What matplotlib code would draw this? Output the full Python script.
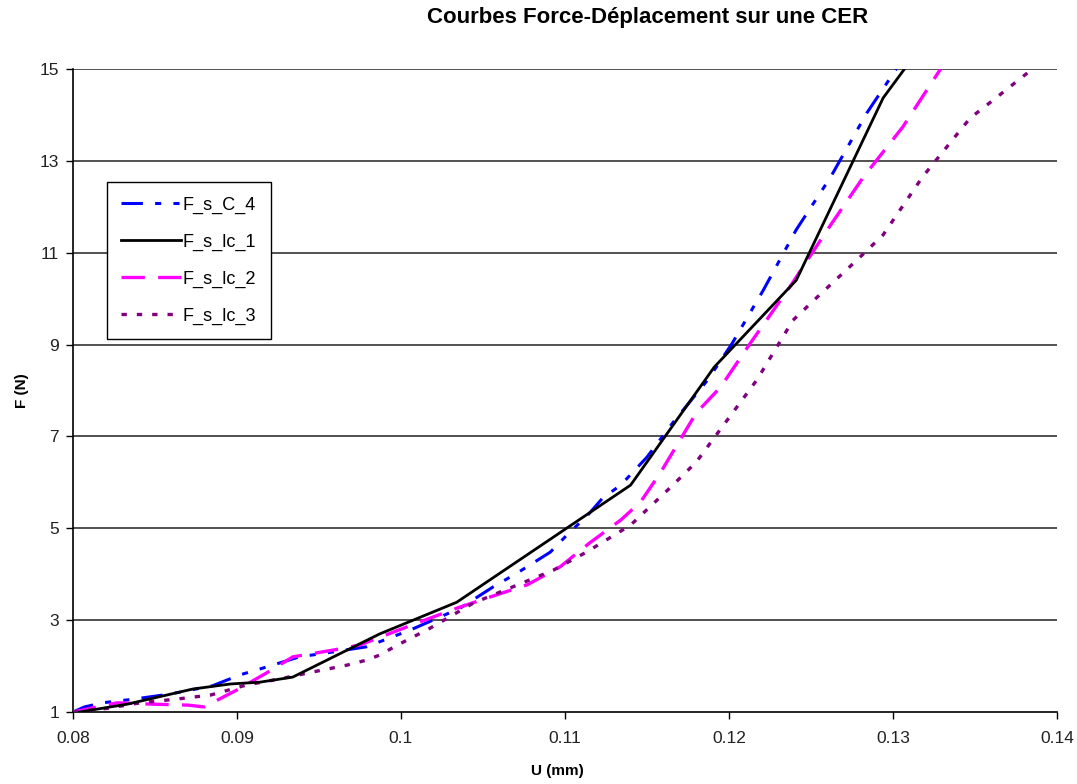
import matplotlib
matplotlib.use("Agg")
import matplotlib.pyplot as plt

# ── Data ──────────────────────────────────────────────────────────────────────
u_c4 = [0.0800, 0.0807, 0.0818, 0.0837, 0.0859, 0.0885, 0.0902, 0.0918, 0.0938,
        0.0959, 0.0979, 0.1006, 0.1036, 0.1056, 0.1071, 0.1091, 0.1103, 0.1113,
        0.1123, 0.1134, 0.1150, 0.1166, 0.1187, 0.1202, 0.1221, 0.1241, 0.1262,
        0.1284, 0.1302]
f_c4 = [1.00, 1.11, 1.20, 1.28, 1.39, 1.57, 1.81, 1.98, 2.20,
        2.31, 2.42, 2.79, 3.26, 3.72, 4.03, 4.48, 4.92, 5.25,
        5.66, 5.94, 6.55, 7.31, 8.23, 9.03, 10.19, 11.50, 12.65,
        14.04, 15.00]

u_lc1 = [0.0804, 0.0833, 0.0873, 0.0896, 0.0914, 0.0934, 0.0987, 0.1034,
         0.1140, 0.1191, 0.1241, 0.1294, 0.1307]
f_lc1 = [1.00, 1.17, 1.50, 1.61, 1.65, 1.76, 2.70, 3.39,
         5.94, 8.51, 10.40, 14.37, 15.00]

u_lc2 = [0.0800, 0.0827, 0.0849, 0.0870, 0.0880, 0.0900, 0.0918, 0.0934,
         0.0959, 0.0975, 0.0991, 0.1010, 0.1034, 0.1054, 0.1077, 0.1097,
         0.1115, 0.1134, 0.1146, 0.1158, 0.1180, 0.1195, 0.1213, 0.1237,
         0.1260, 0.1282, 0.1306, 0.1329]
f_lc2 = [1.00, 1.20, 1.17, 1.15, 1.11, 1.48, 1.85, 2.20,
         2.35, 2.46, 2.68, 2.94, 3.26, 3.50, 3.77, 4.16,
         4.68, 5.18, 5.57, 6.20, 7.51, 8.08, 9.03, 10.25,
         11.50, 12.65, 13.74, 15.00]

u_lc3 = [0.0800, 0.0821, 0.0841, 0.0863, 0.0884, 0.0906, 0.0926, 0.0946,
         0.0967, 0.0979, 0.0987, 0.0998, 0.1018, 0.1044, 0.1074, 0.1093,
         0.1113, 0.1140, 0.1164, 0.1180, 0.1217, 0.1239, 0.1254, 0.1278,
         0.1294, 0.1318, 0.1347, 0.1361, 0.1385]
f_lc3 = [1.00, 1.08, 1.20, 1.28, 1.37, 1.59, 1.72, 1.87,
         2.02, 2.13, 2.24, 2.46, 2.83, 3.37, 3.81, 4.09,
         4.48, 5.07, 5.88, 6.44, 8.23, 9.53, 10.04, 10.84,
         11.39, 12.65, 13.93, 14.32, 15.00]

x_ticks = [0.08, 0.09, 0.10, 0.11, 0.12, 0.13, 0.14]
x_labels = ["0.08", "0.09", "0.1", "0.11", "0.12", "0.13", "0.14"]
y_ticks = [1, 3, 5, 7, 9, 11, 13, 15]

plt.rcParams["font.family"] = ["Liberation Sans", "DejaVu Sans"]

fig = plt.figure(figsize=(10.77, 7.84), dpi=100)
ax = fig.add_axes([73 / 1077, 1 - 712 / 784, 984 / 1077, 643 / 784])

for y in y_ticks[1:]:
    ax.axhline(y, color="#333333", linewidth=1.2, zorder=1)

ax.plot(u_c4, f_c4, color="#0000FF", linewidth=2.2,
        linestyle=(0, (7, 4, 2, 4, 2, 4)), label="F_s_C_4", zorder=3)
ax.plot(u_lc1, f_lc1, color="black", linewidth=2.0, label="F_s_lc_1", zorder=4)
ax.plot(u_lc2, f_lc2, color="#FF00FF", linewidth=2.4,
        linestyle=(0, (7, 4)), label="F_s_lc_2", zorder=3)
ax.plot(u_lc3, f_lc3, color="#800080", linewidth=2.4,
        linestyle=(0, (1.6, 3)), label="F_s_lc_3", zorder=3)

ax.set_xlim(0.08, 0.14)
ax.set_ylim(1, 15)
ax.set_xticks(x_ticks)
ax.set_xticklabels(x_labels)
ax.set_yticks(y_ticks)
ax.tick_params(direction="out", length=5, width=1, labelsize=12.5,
               labelcolor="#222222")
ax.tick_params(axis="x", pad=9)
ax.tick_params(axis="y", pad=5)
ax.spines["top"].set_visible(False)
ax.spines["right"].set_visible(False)
ax.spines["left"].set_linewidth(1.2)
ax.spines["bottom"].set_linewidth(1.2)

ax.set_xlabel("U (mm)", fontweight="bold", fontsize=11)
ax.set_ylabel("F (N)", fontweight="bold", fontsize=11)
ax.xaxis.set_label_coords((557 - 73) / 984, (712 - 764) / 643)
ax.yaxis.set_label_coords((29 - 73) / 984, 0.5)

fig.text(648 / 1077, 1 - 18 / 784, "Courbes Force-Déplacement sur une CER",
         ha="center", va="center", fontweight="bold", fontsize=16)

leg = ax.legend(loc="upper left", bbox_to_anchor=(34 / 984, (712 - 182) / 643),
                fancybox=False, framealpha=1, edgecolor="black",
                fontsize=13, handlelength=3.3, labelspacing=1.1,
                borderpad=0.8, handletextpad=0.1, borderaxespad=0)
leg.get_frame().set_linewidth(1.0)

fig.savefig("out.png", dpi=100)
